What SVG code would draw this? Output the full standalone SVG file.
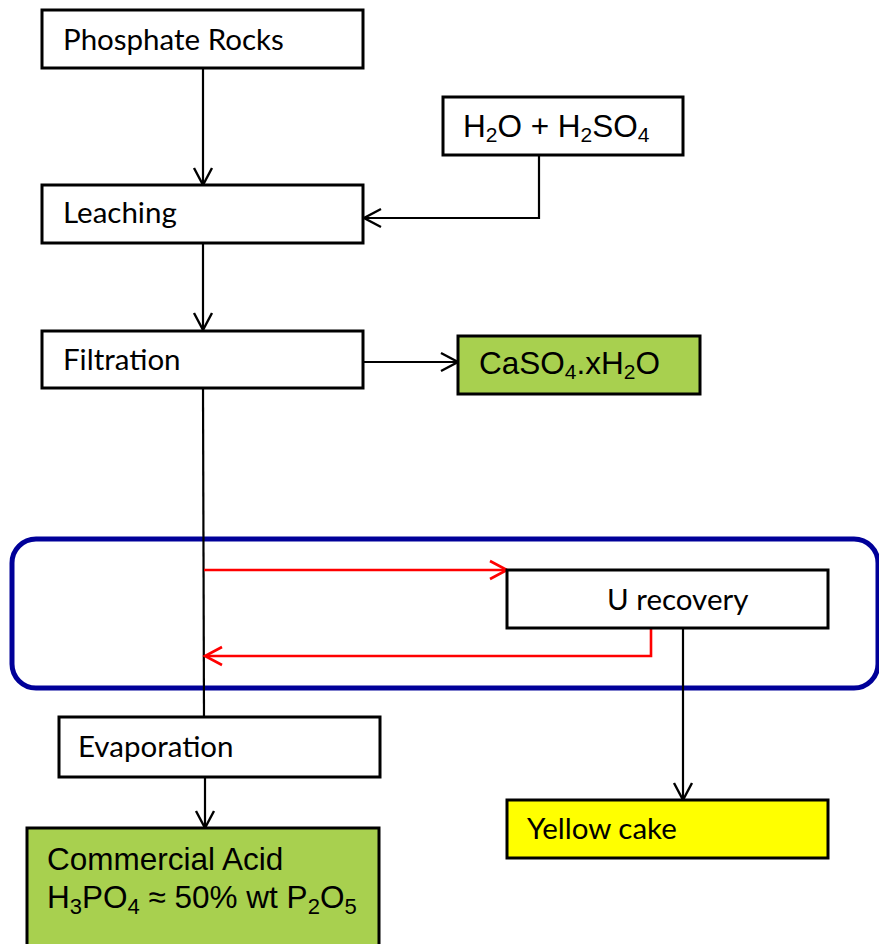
<svg xmlns="http://www.w3.org/2000/svg" width="879" height="944" viewBox="0 0 879 944">
<style>
.box{fill:#ffffff;stroke:#000;stroke-width:3}
.green{fill:#A8D04F;stroke:#000;stroke-width:3}
.yellow{fill:#FFFF00;stroke:#000;stroke-width:3}
.t1{font-family:Lato,"Open Sans",sans-serif;font-size:29.5px;fill:#000}
.t2{font-family:"Liberation Sans",Arial,sans-serif;font-size:31.5px;fill:#000}
.t3{font-family:"Liberation Sans",Arial,sans-serif;font-size:31.5px;fill:#000}
.sub{font-size:21px}
.sub2{font-size:22px}
.ln{fill:none;stroke:#000;stroke-width:2.2}
.red{fill:none;stroke:#FF0000;stroke-width:2.6}
</style>
<defs>
<marker id="ah" markerUnits="userSpaceOnUse" markerWidth="22" markerHeight="22" viewBox="0 0 22 22" refX="19" refY="11" orient="auto">
<path d="M2,2 L19,11 L2,20" fill="none" stroke="#000" stroke-width="2.4"/>
</marker>
<marker id="ahr" markerUnits="userSpaceOnUse" markerWidth="22" markerHeight="22" viewBox="0 0 22 22" refX="19" refY="11" orient="auto">
<path d="M2,2 L19,11 L2,20" fill="none" stroke="#FF0000" stroke-width="2.6"/>
</marker>
</defs>
<rect id="region" x="12" y="539" width="866" height="149" rx="24" ry="24" fill="none" stroke="#000099" stroke-width="5"/>
<g id="connectors">
<path class="ln" d="M203,68 L203,185" marker-end="url(#ah)"/>
<path class="ln" d="M539,155 L539,218 L364,218" marker-end="url(#ah)"/>
<path class="ln" d="M203,243 L203,330" marker-end="url(#ah)"/>
<path class="ln" d="M364,362 L458,362" marker-end="url(#ah)"/>
<path class="ln" d="M203,388 L204,717"/>
<path class="red" d="M204,570 L507,570" marker-end="url(#ahr)"/>
<path class="red" d="M651,628 L651,656 L205,656" marker-end="url(#ahr)"/>
<path class="ln" d="M683,628 L683,800" marker-end="url(#ah)"/>
<path class="ln" d="M205,777 L205,828" marker-end="url(#ah)"/>
</g>
<g id="phosphate">
<rect class="box" x="42" y="10" width="321" height="58"/>
<text class="t1" x="63" y="50">Phosphate Rocks</text>
</g>
<g id="acid-feed">
<rect class="box" x="443" y="97" width="240" height="58"/>
<text class="t2" x="463" y="137">H<tspan class="sub" dy="5">2</tspan><tspan dy="-5">O + H</tspan><tspan class="sub" dy="5">2</tspan><tspan dy="-5">SO</tspan><tspan class="sub" dy="5">4</tspan></text>
</g>
<g id="leaching">
<rect class="box" x="42" y="185" width="321" height="58"/>
<text class="t1" x="63" y="223">Leaching</text>
</g>
<g id="filtration">
<rect class="box" x="42" y="331" width="321" height="57"/>
<text class="t1" x="63" y="370">Filtration</text>
</g>
<g id="gypsum">
<rect class="green" x="458" y="336" width="242" height="58"/>
<text class="t2" x="479" y="374">CaSO<tspan class="sub" dy="5">4</tspan><tspan dy="-5">.xH</tspan><tspan class="sub" dy="5">2</tspan><tspan dy="-5">O</tspan></text>
</g>
<g id="u-recovery">
<rect class="box" x="507" y="570" width="321" height="58"/>
<text class="t1" x="607" y="610">U recovery</text>
</g>
<g id="evaporation">
<rect class="box" x="59" y="717" width="321" height="60"/>
<text class="t1" x="78" y="757">Evaporation</text>
</g>
<g id="yellow-cake">
<rect class="yellow" x="507" y="800" width="321" height="58"/>
<text class="t1" x="527" y="839">Yellow cake</text>
</g>
<g id="commercial-acid">
<rect class="green" x="27" y="828" width="352" height="130"/>
<text class="t3" x="47" y="870">Commercial Acid</text>
<text class="t3" x="47" y="908">H<tspan class="sub2" dy="6">3</tspan><tspan dy="-6">PO</tspan><tspan class="sub2" dy="6">4</tspan><tspan dy="-6"> ≈ 50% wt P</tspan><tspan class="sub2" dy="6">2</tspan><tspan dy="-6">O</tspan><tspan class="sub2" dy="6">5</tspan></text>
</g>
</svg>
